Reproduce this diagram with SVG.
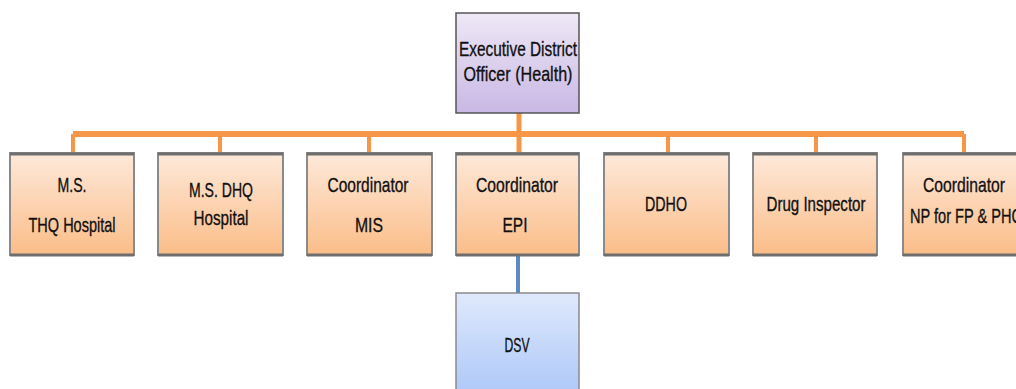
<svg xmlns="http://www.w3.org/2000/svg" width="1016" height="389" viewBox="0 0 1016 389">
<defs>
<linearGradient id="gOr" x1="0" y1="0" x2="0" y2="1"><stop offset="0" stop-color="#fde9da"/><stop offset="1" stop-color="#fbbd88"/></linearGradient>
<linearGradient id="gPu" x1="0" y1="0" x2="0" y2="1"><stop offset="0" stop-color="#eee8f6"/><stop offset="1" stop-color="#c9b8e4"/></linearGradient>
<linearGradient id="gBl" x1="0" y1="0" x2="0" y2="1"><stop offset="0" stop-color="#dfe9fc"/><stop offset="1" stop-color="#a9c5f7"/></linearGradient>
</defs>
<style>
.box{stroke:#8a8a8a;stroke-width:2}
.edge{stroke:#6e6e6e;stroke-width:3}
.t{font-family:"Liberation Sans",Arial,sans-serif;font-size:21px;fill:#111;stroke:#111;stroke-width:0.35;text-anchor:middle}
.org{stroke:#f79646;fill:none}
</style>
<rect width="1016" height="389" fill="#fff"/>
<g id="connectors">
<line class="org" x1="73" y1="134" x2="964" y2="134" stroke-width="6"/>
<line class="org" x1="519" y1="113" x2="519" y2="153" stroke-width="5"/>
<line class="org" x1="73" y1="134" x2="73" y2="153" stroke-width="4"/>
<line class="org" x1="220" y1="134" x2="220" y2="153" stroke-width="4"/>
<line class="org" x1="369" y1="134" x2="369" y2="153" stroke-width="4"/>
<line class="org" x1="668" y1="134" x2="668" y2="153" stroke-width="4"/>
<line class="org" x1="816" y1="134" x2="816" y2="153" stroke-width="4"/>
<line class="org" x1="964" y1="134" x2="964" y2="153" stroke-width="4"/>
<line x1="518" y1="256" x2="518" y2="293" stroke="#5b8ac6" stroke-width="4"/>
</g>
<g id="edo">
<rect x="456" y="13" width="123" height="100" fill="url(#gPu)" stroke="#555" stroke-width="1.5"/>
<text class="t" x="518" y="56" textLength="118" lengthAdjust="spacingAndGlyphs">Executive District</text>
<text class="t" x="518" y="81" textLength="109" lengthAdjust="spacingAndGlyphs">Officer (Health)</text>
</g>
<g id="n1">
<rect class="box" x="10" y="153" width="124" height="102" fill="url(#gOr)"/>
<line class="edge" x1="10" y1="154" x2="134" y2="154"/><line class="edge" x1="10" y1="255" x2="134" y2="255"/>
<text class="t" x="72" y="192" textLength="29" lengthAdjust="spacingAndGlyphs">M.S.</text>
<text class="t" x="72" y="232" textLength="87" lengthAdjust="spacingAndGlyphs">THQ Hospital</text>
</g>
<g id="n2">
<rect class="box" x="158" y="153" width="125" height="102" fill="url(#gOr)"/>
<line class="edge" x1="158" y1="154" x2="283" y2="154"/><line class="edge" x1="158" y1="255" x2="283" y2="255"/>
<text class="t" x="221" y="197" textLength="64" lengthAdjust="spacingAndGlyphs">M.S. DHQ</text>
<text class="t" x="221" y="225" textLength="55" lengthAdjust="spacingAndGlyphs">Hospital</text>
</g>
<g id="n3">
<rect class="box" x="307" y="153" width="125" height="102" fill="url(#gOr)"/>
<line class="edge" x1="307" y1="154" x2="432" y2="154"/><line class="edge" x1="307" y1="255" x2="432" y2="255"/>
<text class="t" x="368" y="192" textLength="81" lengthAdjust="spacingAndGlyphs">Coordinator</text>
<text class="t" x="369" y="232" textLength="28" lengthAdjust="spacingAndGlyphs">MIS</text>
</g>
<g id="n4">
<rect class="box" x="456" y="153" width="123" height="102" fill="url(#gOr)"/>
<line class="edge" x1="456" y1="154" x2="579" y2="154"/><line class="edge" x1="456" y1="255" x2="579" y2="255"/>
<text class="t" x="517" y="192" textLength="82" lengthAdjust="spacingAndGlyphs">Coordinator</text>
<text class="t" x="515" y="232" textLength="25" lengthAdjust="spacingAndGlyphs">EPI</text>
</g>
<g id="n5">
<rect class="box" x="604" y="153" width="125" height="102" fill="url(#gOr)"/>
<line class="edge" x1="604" y1="154" x2="729" y2="154"/><line class="edge" x1="604" y1="255" x2="729" y2="255"/>
<text class="t" x="666" y="211" textLength="42" lengthAdjust="spacingAndGlyphs">DDHO</text>
</g>
<g id="n6">
<rect class="box" x="753" y="153" width="124" height="102" fill="url(#gOr)"/>
<line class="edge" x1="753" y1="154" x2="877" y2="154"/><line class="edge" x1="753" y1="255" x2="877" y2="255"/>
<text class="t" x="816" y="211" textLength="99" lengthAdjust="spacingAndGlyphs">Drug Inspector</text>
</g>
<g id="n7">
<rect class="box" x="903" y="153" width="124" height="102" fill="url(#gOr)"/>
<line class="edge" x1="903" y1="154" x2="1027" y2="154"/><line class="edge" x1="903" y1="255" x2="1027" y2="255"/>
<text class="t" x="964" y="192" textLength="82" lengthAdjust="spacingAndGlyphs">Coordinator</text>
<text class="t" x="966" y="223" textLength="112" lengthAdjust="spacingAndGlyphs">NP for FP &amp; PHC</text>
</g>
<g id="dsv">
<rect x="456" y="293" width="123" height="110" fill="url(#gBl)" stroke="#8a8a8a" stroke-width="1.5"/>
<text class="t" x="517" y="352" textLength="25" lengthAdjust="spacingAndGlyphs">DSV</text>
</g>
</svg>
